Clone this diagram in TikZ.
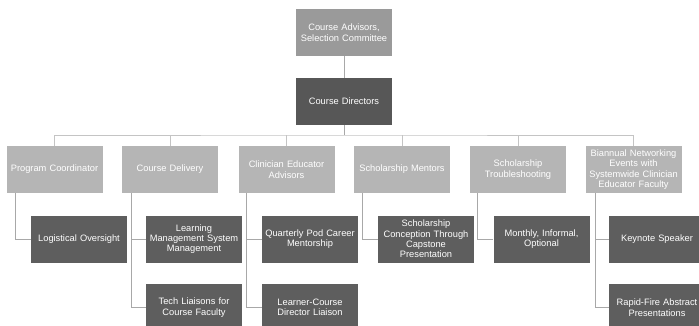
\documentclass[tikz,border=0pt]{standalone}
\usepackage{fontspec}
\setmainfont{Liberation Sans}
\definecolor{topgray}{HTML}{9A9A9A}
\definecolor{dirgray}{HTML}{575757}
\definecolor{lvtwo}{HTML}{B5B5B5}
\definecolor{lvthree}{HTML}{5E5E5E}
\definecolor{barline}{HTML}{C4C4C4}
\definecolor{subline}{HTML}{A8A8A8}
\begin{document}
\begin{tikzpicture}[x=1pt,y=-1pt,
  box/.style={minimum width=94pt,minimum height=47pt,inner sep=0pt,text width=96pt,align=center,
    text=white,font=\fontsize{9.3}{10.4}\selectfont},
  topbox/.style={box,fill=topgray},
  dirbox/.style={box,fill=dirgray},
  twobox/.style={box,fill=lvtwo},
  threebox/.style={box,fill=lvthree},
  bar/.style={draw=barline,line width=0.9pt},
  sub/.style={draw=subline,line width=0.9pt}]
\clip (0,0) rectangle (699,325);
\fill[white] (0,0) rectangle (699,325);
% top
\node[topbox] (adv) at (344,32.5) {Course Advisors,\\Selection Committee};
\node[dirbox] (dir) at (344,101.5) {Course Directors};
% level 2
\node[twobox] (pc) at (54.5,169.5) {Program Coordinator};
\node[twobox] (cdl) at (170,169.5) {Course Delivery};
\node[twobox] (cea) at (286.5,169.5) {Clinician Educator\\Advisors};
\node[twobox] (sm) at (402,169.5) {Scholarship Mentors};
\node[twobox] (st) at (518,169.5) {Scholarship\\Troubleshooting};
\node[twobox] (bn) at (633.5,169.5) {Biannual Networking\\Events with\\Systemwide Clinician\\Educator Faculty};
% level 3
\node[threebox] (lo) at (79,239) {Logistical Oversight};
\node[threebox] (lms) at (194,239) {Learning\\Management System\\Management};
\node[threebox] (qp) at (310,239) {Quarterly Pod Career\\Mentorship};
\node[threebox] (sc) at (426,239) {Scholarship\\Conception Through\\Capstone\\Presentation};
\node[threebox] (mo) at (541.5,239) {Monthly, Informal,\\Optional};
\node[threebox] (ks) at (657,239) {Keynote Speaker};
% level 4
\node[threebox] (tl) at (194,307.5) {Tech Liaisons for\\Course Faculty};
\node[threebox] (lc) at (310,307.5) {Learner-Course\\Director Liaison};
\node[threebox] (rf) at (657,307.5) {Rapid-Fire Abstract\\Presentations};
% connectors top
\coordinate (barpt) at (344,135);
\draw[sub] (adv.south) -- (dir.north);
\draw[sub] (dir.south) -- (barpt);
\draw[bar] (pc.north) |- (barpt) -| (bn.north);
\foreach \n in {cdl,cea,sm,st}{\draw[bar] (\n.north) -- (\n.north |- barpt);}
% branches
\coordinate (pcx) at ([xshift=9pt]pc.south west);
\coordinate (cdlx) at ([xshift=10pt]cdl.south west);
\coordinate (ceax) at ([xshift=8pt]cea.south west);
\coordinate (smx) at ([xshift=9pt]sm.south west);
\coordinate (stx) at ([xshift=8pt]st.south west);
\coordinate (bnx) at ([xshift=10pt]bn.south west);
\draw[sub] (pcx) |- (lo.west);
\draw[sub] (cdlx) |- (tl.west);
\draw[sub] (cdlx |- lms.west) -- (lms.west);
\draw[sub] (ceax) |- (lc.west);
\draw[sub] (ceax |- qp.west) -- (qp.west);
\draw[sub] (smx) |- (sc.west);
\draw[sub] (stx) |- (mo.west);
\draw[sub] (bnx) |- (rf.west);
\draw[sub] (bnx |- ks.west) -- (ks.west);
\end{tikzpicture}
\end{document}
